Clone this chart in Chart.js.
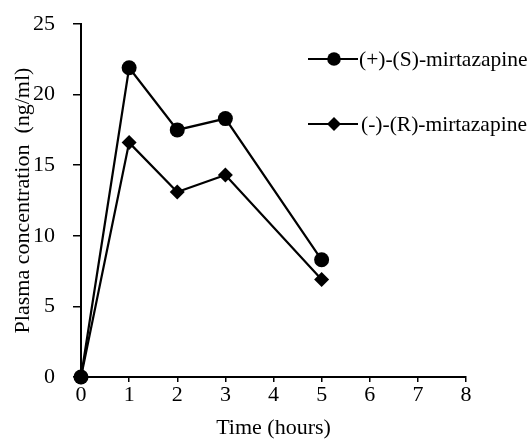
<!DOCTYPE html>
<html>
<head>
<meta charset="utf-8">
<script src="https://cdn.jsdelivr.net/npm/chart.js@4/dist/chart.umd.min.js"></script>
<style>
  html, body { margin: 0; padding: 0; background: #fff; }
  #wrap { width: 528px; height: 441px; }
</style>
</head>
<body>
<div id="wrap"><canvas id="pk-chart" width="528" height="441"></canvas></div>
<script>
const timeHours = [0, 1, 2, 3, 5];
const sMirtazapine = [0, 21.9, 17.5, 18.3, 8.3];
const rMirtazapine = [0, 16.6, 13.1, 14.3, 6.9];
const seriesNames = ["(+)-(S)-mirtazapine", "(-)-(R)-mirtazapine"];
const xTicks = [0, 1, 2, 3, 4, 5, 6, 7, 8];
const yTicks = [0, 5, 10, 15, 20, 25];

const FONT = "'Liberation Serif', 'Times New Roman', serif";

function toPoints(xs, ys) {
  return xs.map((x, i) => ({ x, y: ys[i] }));
}

// legend drawn by hand: short line, marker in the middle, text after it
const sideLegend = {
  id: "sideLegend",
  afterDraw(chart) {
    const ctx = chart.ctx;
    const rows = [
      { y: 59, style: "circle", r: 6.8, tx: 359 },
      { y: 124, style: "diamond", r: 7, tx: 361 },
    ];
    ctx.save();
    rows.forEach((row, i) => {
      const x0 = 308, x1 = 358, mx = 334;
      ctx.strokeStyle = "#000";
      ctx.lineWidth = 2.2;
      ctx.beginPath();
      ctx.moveTo(x0, row.y);
      ctx.lineTo(x1, row.y);
      ctx.stroke();
      ctx.fillStyle = "#000";
      ctx.beginPath();
      if (row.style === "circle") {
        ctx.arc(mx, row.y, row.r, 0, Math.PI * 2);
      } else {
        ctx.moveTo(mx, row.y - row.r);
        ctx.lineTo(mx + row.r, row.y);
        ctx.lineTo(mx, row.y + row.r);
        ctx.lineTo(mx - row.r, row.y);
        ctx.closePath();
      }
      ctx.fill();
      ctx.font = "21.5px " + FONT;
      ctx.textBaseline = "middle";
      ctx.textAlign = "left";
      ctx.fillText(seriesNames[i], row.tx, row.y + 1);
    });
    ctx.restore();
  },
};

const axisFont = { family: FONT, size: 22 };

new Chart(document.getElementById("pk-chart"), {
  type: "line",
  data: {
    datasets: [
      {
        label: seriesNames[1],
        data: toPoints(timeHours, rMirtazapine),
        borderColor: "#000",
        backgroundColor: "#000",
        borderWidth: 2.2,
        pointStyle: "rectRot",
        pointRadius: 7.5,
        pointBorderWidth: 0,
        tension: 0,
      },
      {
        label: seriesNames[0],
        data: toPoints(timeHours, sMirtazapine),
        borderColor: "#000",
        backgroundColor: "#000",
        borderWidth: 2.2,
        pointStyle: "circle",
        pointRadius: 7.5,
        pointBorderWidth: 0,
        tension: 0,
      },
    ],
  },
  options: {
    responsive: false,
    animation: false,
    clip: false,
    layout: { padding: { top: 24, right: 62, bottom: 0, left: 0 } },
    plugins: {
      legend: { display: false },
      tooltip: { enabled: false },
    },
    scales: {
      x: {
        type: "linear",
        min: 0,
        max: 8,
        afterBuildTicks: (s) => { s.ticks = xTicks.map((v) => ({ value: v })); },
        afterFit: (s) => { s.height = 64; s.paddingLeft = 0; s.paddingRight = 0; },
        ticks: { color: "#000", font: axisFont, padding: 0, maxRotation: 0 },
        grid: { drawOnChartArea: false, drawTicks: true, tickLength: 5, color: "#000", lineWidth: 1.5 },
        border: { color: "#000", width: 2 },
        title: { display: true, text: "Time (hours)", color: "#000", font: axisFont, padding: { top: 11, bottom: 0 } },
      },
      y: {
        min: 0,
        max: 25,
        afterBuildTicks: (s) => { s.ticks = yTicks.map((v) => ({ value: v })); },
        afterFit: (s) => { s.width = 81; s.paddingTop = 0; s.paddingBottom = 0; },
        ticks: { color: "#000", font: axisFont, padding: 18 },
        grid: { drawOnChartArea: false, drawTicks: true, tickLength: 8, color: "#000", lineWidth: 1.5 },
        border: { color: "#000", width: 2 },
        title: { display: true, text: "Plasma concentration  (ng/ml)", color: "#000", font: axisFont, padding: { top: 10, bottom: 0 } },
      },
    },
  },
  plugins: [sideLegend],
});
</script>
</body>
</html>
